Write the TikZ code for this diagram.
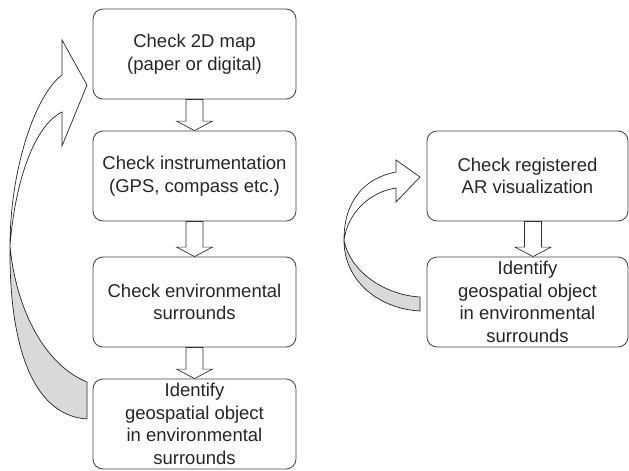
\documentclass[tikz,border=0pt]{standalone}
\usepackage{fontspec}
\setmainfont{Liberation Sans}
\begin{document}
\begin{tikzpicture}[x=1pt,y=-1pt,
  box/.style={draw=black!75, line width=0.8pt, rounded corners=10pt, minimum width=203pt, minimum height=90pt, align=center, inner sep=0pt, text=black!85, font=\fontsize{18.5}{22.5}\selectfont},
  blk/.style={draw=black!80, line width=0.7pt, fill=white, line join=miter},
  curv/.style={draw=black!85, line width=0.7pt, line join=miter},
  back/.style={curv, fill=black!15}]
\useasboundingbox (0,0) rectangle (629,471);
\newcommand\blockarr[3]{%
  \draw[blk] ([xshift=#3-8.5pt]#1.south) -- ([xshift=#3-8.5pt,yshift=9.5pt]#2.north) -- ([xshift=#3-18pt,yshift=9.5pt]#2.north) -- ([xshift=#3]#2.north) -- ([xshift=#3+18pt,yshift=9.5pt]#2.north) -- ([xshift=#3+8.5pt,yshift=9.5pt]#2.north) -- ([xshift=#3+8.5pt]#1.south) -- cycle;}
\node[box] (b1) at (194.5,54) {Check 2D map\\(paper or digital)};
\node[box] (b2) at (194.5,176) {Check instrumentation\\(GPS, compass etc.)};
\node[box] (b3) at (194.5,302) {Check environmental\\surrounds};
\node[box] (b4) at (194.5,424) {Identify\\geospatial object\\in environmental\\surrounds};
\node[box, minimum width=201pt] (r1) at (527.5,176) {Check registered\\AR visualization};
\node[box, minimum width=201pt] (r2) at (527.5,302) {Identify\\geospatial object\\in environmental\\surrounds};
\blockarr{b1}{b2}{0pt}
\blockarr{b2}{b3}{0pt}
\blockarr{b3}{b4}{0pt}
\blockarr{r1}{r2}{5.5pt}
% left curved arrow (from b4 back to b1)
\draw[back] (10,246) .. controls (9,340) and (30,415) .. (87,419) -- (87,382) .. controls (45,365) and (16,310) .. (10,246) -- cycle;
\draw[curv, fill=white] (10,246) .. controls (10,170) and (35,95) .. (62,75) -- (62,40) -- (87,85) -- (62,146) -- (62,112) .. controls (35,125) and (15,180) .. (10,246) -- cycle;
% right curved arrow (from r2 back to r1)
\draw[back] (344,240) .. controls (344,282) and (380,309) .. (420,311) -- (420,297) .. controls (385,295) and (350,272) .. (344,240) -- cycle;
\draw[curv, fill=white] (344,240) .. controls (344,200) and (365,178) .. (396,172) -- (396,160) -- (420,177) -- (396,202) -- (396,188) .. controls (370,192) and (348,212) .. (344,240) -- cycle;
\end{tikzpicture}
\end{document}
